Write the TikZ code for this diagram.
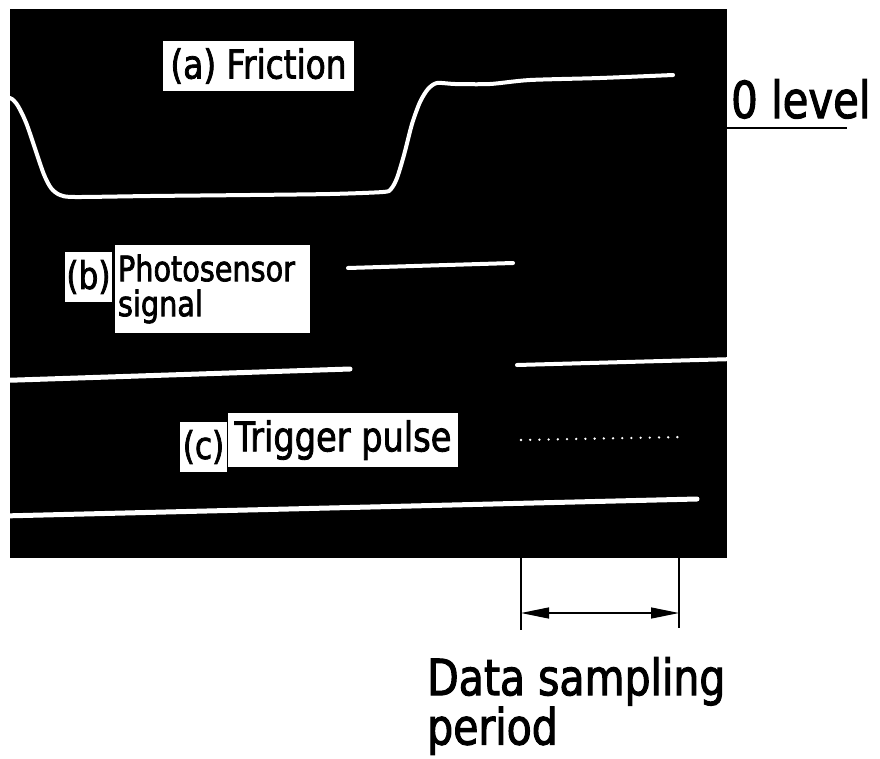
\documentclass[tikz,border=0pt]{standalone}
\usepackage{fontspec}
\setmainfont{DejaVu Sans}[FakeStretch=0.82,FakeBold=2]
\usetikzlibrary{arrows.meta}
\begin{document}
\begin{tikzpicture}[x=1pt,y=-1pt,
  trace/.style={white, line width=4pt, line cap=round, line join=round},
  lbl/.style={fill=white, text=black, inner sep=0pt, align=left},
  dimline/.style={black, line width=1.3pt},
  dimtip/.style={Triangle[length=28pt,width=12pt]},
]
\useasboundingbox (0,0) rectangle (880,758);
\node[fill=black, minimum width=717pt, minimum height=549pt, inner sep=0pt, anchor=north west] (screen) at (10,9) {};

\begin{scope}
\clip (screen.north west) rectangle (screen.south east);
% (a) friction trace
\draw[trace] plot[smooth, tension=0.45] coordinates {(6,97) (12,99) (18,106) (27,125) (43,172) (51,188) (60,195) (75,197) (150,196) (250,195) (330,194) (383,192) (391,189) (397,178) (404,155) (412,124) (420,102) (428,89) (437,83) (455,84) (490,84) (530,80) (600,78) (673,75)};
% (b) photosensor signal
\draw[trace] (348,268) -- (513,263);
\draw[trace, line width=5pt] (2,380.5) -- (350,369);
\draw[trace] (517,365) -- (735,359);
% (c) trigger pulse
\foreach \i in {0,...,17}
  \fill[white] ({521+\i*9.2},{440-\i*0.17}) circle (1.3);
\draw[trace, line width=5pt] (2,516) -- (697,499);
\end{scope}

% labels on the screen
\node[lbl, minimum width=191pt, minimum height=50pt, align=center, font=\fontsize{40}{44}\selectfont] (fric) at (258.5,66) {(a) Friction};
\node[lbl, minimum width=47pt, minimum height=50pt, align=center, font=\fontsize{38}{40}\selectfont] (blab) at (88.5,277) {(b)};
\node[lbl, minimum width=195pt, minimum height=88pt, text width=189pt, font=\fontsize{35}{35}\selectfont] (bsig) at (212.5,289) {Photosensor\\signal};
\node[lbl, minimum width=47pt, minimum height=50pt, align=center, font=\fontsize{38}{40}\selectfont] (clab) at (203.5,447) {(c)};
\node[lbl, minimum width=230pt, minimum height=54pt, align=center, font=\fontsize{41}{44}\selectfont] (ctrig) at (343,440) {Trigger pulse};

% zero level
\node[anchor=base west, inner sep=0pt, font=\fontsize{51}{60}\selectfont] (zero) at (731,118) {0 level};
\coordinate (ul0) at (727,128);
\coordinate (ul1) at (847,128);
\draw[line width=1.5pt] (ul0) -- (ul1);

% data sampling period
\coordinate (d1a) at (521,558);
\coordinate (d1b) at (521,630);
\coordinate (d2a) at (679,558);
\coordinate (d2b) at (679,628);
\coordinate (a1) at (521,613);
\coordinate (a2) at (679,613);
\draw[dimline] (d1a) -- (d1b);
\draw[dimline] (d2a) -- (d2b);
\draw[dimline, {Triangle[length=28pt,width=11pt]}-{Triangle[length=28pt,width=11pt]}] (a1) -- (a2);
\node[anchor=north west, inner sep=0pt, align=left, font=\fontsize{50}{48}\selectfont] (dsp) at (427,657) {Data sampling\\period};
\end{tikzpicture}
\end{document}
